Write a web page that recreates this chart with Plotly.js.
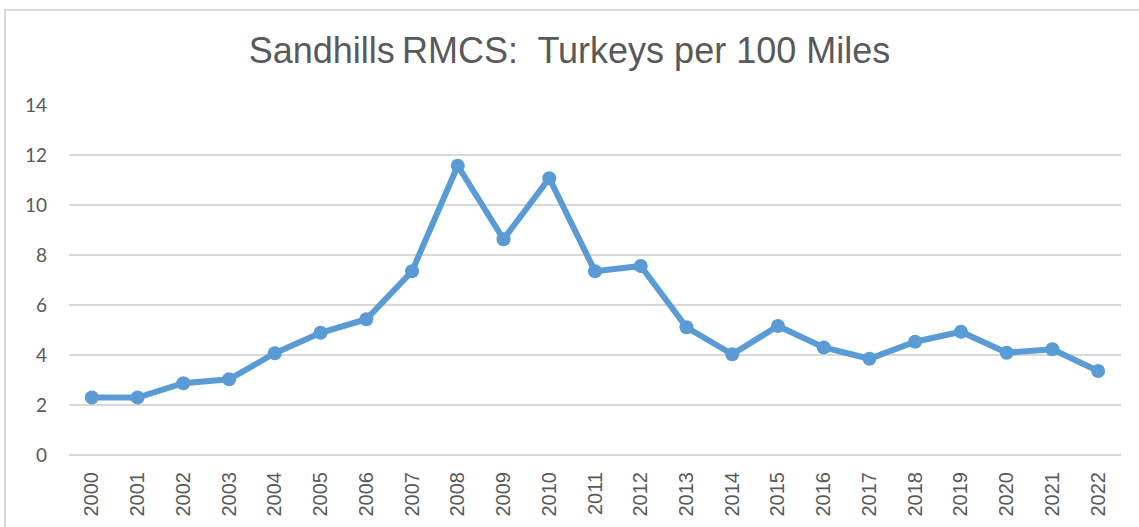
<!DOCTYPE html>
<html>
<head>
<meta charset="utf-8">
<script src="https://cdn.plot.ly/plotly-3.0.1.min.js"></script>
<style>
  html, body { margin: 0; padding: 0; background: #ffffff; }
  #wrap { position: relative; width: 1139px; height: 527px; overflow: hidden; }
  #chart { position: absolute; left: 0; top: 0; width: 1139px; height: 527px; }
  #btop { position: absolute; left: 4px; top: 9px; width: 1135px; height: 2px; background: #d9d9d9; }
  #bleft { position: absolute; left: 4px; top: 9px; width: 2px; height: 518px; background: #d9d9d9; }
</style>
</head>
<body>
<div id="wrap">
  <div id="chart"></div>
  <div id="btop"></div>
  <div id="bleft"></div>
</div>
<script>
const years = ["2000","2001","2002","2003","2004","2005","2006","2007","2008","2009","2010","2011",
               "2012","2013","2014","2015","2016","2017","2018","2019","2020","2021","2022"];
const turkeysPer100Miles = [2.3, 2.3, 2.87, 3.03, 4.07, 4.89, 5.43, 7.35, 11.57, 8.63, 11.07, 7.35,
                            7.56, 5.11, 4.03, 5.16, 4.3, 3.85, 4.53, 4.93, 4.09, 4.23, 3.36];
const yTicks = [0, 2, 4, 6, 8, 10, 12, 14];
const chartTitle = "Sandhills\u2009RMCS:  Turkeys per 100 Miles";

const trace = {
  x: years,
  y: turkeysPer100Miles,
  type: "scatter",
  mode: "lines+markers",
  line: { color: "#5b9bd5", width: 6 },
  marker: { color: "#5b9bd5", size: 14 },
  hoverinfo: "x+y"
};

const layout = {
  width: 1139,
  height: 527,
  paper_bgcolor: "rgba(0,0,0,0)",
  plot_bgcolor: "#ffffff",
  margin: { l: 69, r: 18, t: 105, b: 72 },
  showlegend: false,
  title: {
    text: chartTitle,
    font: { family: "Liberation Sans, Arial, sans-serif", size: 36, color: "#595959" },
    x: 0.5, xanchor: "center",
    y: 0.905, yanchor: "middle", yref: "container"
  },
  xaxis: {
    type: "category",
    range: [-0.5, years.length - 0.5],
    tickangle: -90,
    tickfont: { family: "Liberation Sans, Arial, sans-serif", size: 20, color: "#595959" },
    showgrid: false,
    zeroline: false,
    showline: false,
    ticks: "",
    ticklabelstandoff: 12,
    fixedrange: true
  },
  yaxis: {
    range: [0, 14],
    tickvals: yTicks,
    ticktext: yTicks.map(String),
    tickfont: { family: "Lato, Carlito, Calibri, sans-serif", size: 19, color: "#595959" },
    showgrid: true,
    gridcolor: "#d9d9d9",
    gridwidth: 1.5,
    zeroline: true,
    zerolinecolor: "#d9d9d9",
    zerolinewidth: 1.5,
    showline: false,
    ticks: "",
    ticklabelstandoff: 21,
    fixedrange: true
  }
};

Plotly.newPlot("chart", [trace], layout, { displayModeBar: false, staticPlot: true });
</script>
</body>
</html>
